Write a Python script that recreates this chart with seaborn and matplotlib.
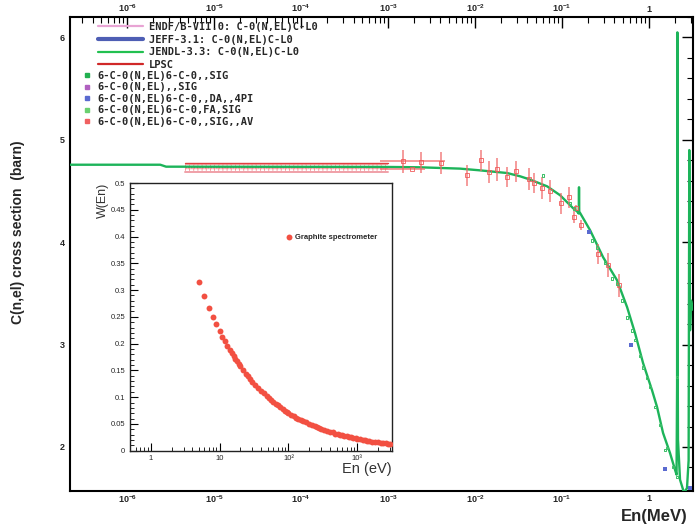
import numpy as np
import pandas as pd
import matplotlib
matplotlib.use("Agg")
import matplotlib.pyplot as plt
import seaborn as sns
from matplotlib.ticker import FixedLocator, FixedFormatter, LogLocator, NullFormatter, MultipleLocator
from matplotlib.lines import Line2D

# ---------------- data ----------------
# JENDL-3.3 C-0(N,EL) evaluated curve (E in MeV, sigma in barn)
eval_E = [2.2e-7, 2.4e-6, 2.8e-6, 8.0e-4, 2.3e-3, 6.7e-3, 0.0114, 0.0233, 0.0329, 0.0429,
          0.0673, 0.0949, 0.134, 0.149, 0.1555, 0.1565, 0.1575, 0.161, 0.21, 0.296,
          0.428, 0.559, 0.69, 0.853, 1.08, 1.236, 1.448, 1.743, 1.99, 2.07,
          2.10, 2.115, 2.13, 2.15, 2.27, 2.53, 2.73, 2.85, 2.90, 2.96, 3.04, 3.2]
eval_sig = [4.757, 4.757, 4.738, 4.736, 4.732, 4.719, 4.702, 4.676, 4.644, 4.612,
            4.546, 4.459, 4.332, 4.300, 4.28, 4.537, 4.29, 4.286, 4.117, 3.854,
            3.629, 3.366, 3.112, 2.82, 2.556, 2.39, 2.137, 1.94, 1.776, 1.73,
            2.6, 6.05, 3.0, 2.07, 1.68, 1.55, 1.60, 1.87, 4.9, 3.14, 3.43, 3.34]

# LPSC band
lpsc_E = [4.6e-6, 1.0e-5, 1.0e-4, 1.0e-3]
lpsc_sig = [4.735, 4.735, 4.735, 4.735]
lpsc_hi = [4.775, 4.775, 4.775, 4.775]
lpsc_lo = [4.688, 4.688, 4.688, 4.688]

# 6-C-0(N,EL)6-C-0,,SIG,,AV  (red points with error bars)
exp_E = [1.486e-3, 1.888e-3, 2.395e-3, 4.06e-3, 8.09e-3, 0.01172, 0.01449, 0.01791, 0.02333,
         0.02961, 0.04178, 0.04766, 0.05891, 0.07279, 0.09744, 0.1203, 0.1374, 0.1449,
         0.1653, 0.2594, 0.338, 0.4518]
exp_sig = [4.790, 4.712, 4.780, 4.771, 4.654, 4.800, 4.683, 4.712, 4.634, 4.693, 4.615,
           4.576, 4.527, 4.498, 4.380, 4.439, 4.244, 4.332, 4.166, 3.883, 3.776, 3.580]
exp_err = [0.112, 0.0, 0.102, 0.107, 0.103, 0.104, 0.107, 0.110, 0.098, 0.102, 0.106,
           0.098, 0.106, 0.106, 0.101, 0.104, 0.059, 0.030, 0.050, 0.098, 0.114, 0.114]
exp_xlo = [6.76e-4, 1.08e-3, 0, 0, 0, 0, 0, 0, 0, 0, 0, 0, 0, 0, 0, 0, 0, 0, 0, 0, 0, 0]
exp_xhi = [3.0e-3, 7.7e-4, 0, 0, 0, 0, 0, 0, 0, 0, 0, 0, 0, 0, 0, 0, 0, 0, 0, 0, 0, 0]

# 6-C-0(N,EL)6-C-0,,SIG  (green points)
sig_E = [0.0605, 0.1236, 0.1374, 0.2213, 0.2523, 0.312, 0.3758, 0.428, 0.4896, 0.559,
         0.638, 0.69, 0.788, 0.853, 0.948, 1.027, 1.172, 1.338, 1.527, 1.61, 1.888, 2.1, 2.09]
sig_sig = [4.654, 4.380, 4.332, 4.020, 3.951, 3.805, 3.649, 3.600, 3.434, 3.268,
           3.141, 3.044, 2.888, 2.780, 2.673, 2.585, 2.390, 2.215, 1.971, 1.990, 1.805, 2.683, 1.707]

# 6-C-0(N,EL)6-C-0,,DA,,4PI  (blue points)
da_E = [0.2042, 0.621, 1.527, 2.96]
da_sig = [4.098, 2.995, 1.785, 1.60]

# inset: graphite spectrometer W(En), En in eV
w_E = [5, 6, 7, 8, 9, 10, 11, 12, 13, 14, 15, 16, 17, 18, 19, 20, 22, 24, 26, 28, 30, 33, 36,
       40, 44, 48, 52, 56, 60, 65, 70, 76, 82, 88, 95, 100, 110, 120, 130, 140, 150, 165,
       180, 200, 220, 240, 260, 280, 300, 330, 360, 400, 440, 480, 520, 560, 600, 650, 700,
       760, 820, 880, 950, 1000, 1100, 1200, 1300, 1400, 1500, 1650, 1800, 2000, 2200,
       2400, 2600, 2800, 3000]
w_val = [0.316, 0.289, 0.267, 0.250, 0.236, 0.224, 0.213, 0.204, 0.196, 0.189, 0.183, 0.177,
         0.171, 0.167, 0.162, 0.158, 0.151, 0.144, 0.139, 0.134, 0.129, 0.123, 0.118, 0.112,
         0.107, 0.102, 0.098, 0.094, 0.091, 0.088, 0.085, 0.081, 0.078, 0.075, 0.073, 0.071,
         0.067, 0.065, 0.062, 0.060, 0.058, 0.055, 0.053, 0.050, 0.048, 0.046, 0.044, 0.042,
         0.041, 0.039, 0.037, 0.035, 0.034, 0.032, 0.031, 0.030, 0.029, 0.028, 0.027, 0.026,
         0.025, 0.024, 0.023, 0.022, 0.021, 0.020, 0.0196, 0.019, 0.018, 0.017, 0.0167,
         0.016, 0.015, 0.014, 0.0139, 0.0134, 0.013]

x_ticks = [1e-6, 1e-5, 1e-4, 1e-3, 1e-2, 1e-1, 1]
x_labels = ["10$^{-6}$", "10$^{-5}$", "10$^{-4}$", "10$^{-3}$", "10$^{-2}$", "10$^{-1}$", "1"]
y_ticks = [2, 3, 4, 5, 6]
in_x_ticks = [1, 10, 100, 1000]
in_x_labels = ["1", "10", "10\u00b2", "10\u00b3"]
in_y_ticks = [0, 0.05, 0.1, 0.15, 0.2, 0.25, 0.3, 0.35, 0.4, 0.45, 0.5]
in_y_labels = ["0", "0.05", "0.1", "0.15", "0.2", "0.25", "0.3", "0.35", "0.4", "0.45", "0.5"]

# ---------------- style ----------------
sns.set_theme(style="white")
plt.rcParams["font.family"] = ["Liberation Sans", "DejaVu Sans"]
plt.rcParams["mathtext.fontset"] = "custom"
plt.rcParams["mathtext.rm"] = "Liberation Sans:bold"
plt.rcParams["mathtext.it"] = "Liberation Sans:bold"
plt.rcParams["mathtext.bf"] = "Liberation Sans:bold"
plt.rcParams["hatch.linewidth"] = 0.6

GREEN = "#1db45a"
RED = "#f06a6a"

fig = plt.figure(figsize=(6.95, 5.32), dpi=100)
ax = fig.add_axes([70 / 695, 41 / 532, 623 / 695, 474 / 532])

df_eval = pd.DataFrame({"E": eval_E, "sig": eval_sig})
df_lpsc = pd.DataFrame({"E": lpsc_E, "sig": lpsc_sig, "hi": lpsc_hi, "lo": lpsc_lo})

# LPSC band
ax.fill_between(lpsc_E, lpsc_lo, lpsc_hi, facecolor="none", edgecolor="#f4a0a0",
                hatch="++++", linewidth=0, zorder=2)
sns.lineplot(data=df_lpsc, x="E", y="hi", ax=ax, color="#e04040", lw=1.0,
             estimator=None, sort=False, zorder=3, legend=False)
sns.lineplot(data=df_lpsc, x="E", y="lo", ax=ax, color="#f0a0a8", lw=1.4,
             estimator=None, sort=False, zorder=3, legend=False)
sns.lineplot(data=df_lpsc, x="E", y="sig", ax=ax, color="#e04848", lw=1.0, ls=(0, (1, 1)),
             estimator=None, sort=False, zorder=3, legend=False)

# evaluated curve
sns.lineplot(data=df_eval, x="E", y="sig", ax=ax, color=GREEN, lw=1.7,
             estimator=None, sort=False, zorder=4, legend=False)

# experimental points
ax.errorbar(exp_E, exp_sig, yerr=exp_err, xerr=[exp_xlo, exp_xhi], fmt="s", ms=2.6,
            mfc="none", mec="#f05858", mew=0.7, ecolor=RED, elinewidth=1.1, capsize=0,
            alpha=0.85, zorder=5)
sns.scatterplot(x=sig_E, y=sig_sig, ax=ax, marker="s", s=4, facecolor="none",
                edgecolor="#3cc068", linewidth=0.7, zorder=6)
sns.scatterplot(x=da_E, y=da_sig, ax=ax, marker="s", s=5, color="#5a6ad0",
                linewidth=0, zorder=6)

ax.set_xscale("log")
ax.set_xlim(2.2e-7, 3.2)
ax.set_ylim(1.57, 6.2)
ax.xaxis.set_major_locator(FixedLocator(x_ticks))
ax.xaxis.set_major_formatter(FixedFormatter(x_labels))
ax.xaxis.set_minor_locator(LogLocator(base=10, subs=np.arange(2, 10), numticks=30))
ax.xaxis.set_minor_formatter(NullFormatter())
ax.yaxis.set_major_locator(FixedLocator(y_ticks))
ax.yaxis.set_minor_locator(MultipleLocator(0.2))
ax.tick_params(axis="both", which="major", direction="in", length=8, width=1,
               top=True, right=True, labeltop=True, labelsize=6.5, pad=4, color="black")
ax.tick_params(axis="x", which="major", pad=2)
ax.tick_params(axis="both", which="minor", direction="in", length=4, width=0.8,
               top=True, right=True, color="black")
for lab in ax.get_xticklabels() + ax.get_yticklabels():
    lab.set_fontweight("bold")
ax.set_xlabel("")
ax.set_ylabel("")
for sp in ax.spines.values():
    sp.set_linewidth(1.5)
    sp.set_color("black")

# legends
mono = {"family": "DejaVu Sans Mono", "weight": "bold", "size": 7.5}
h1 = [Line2D([], [], color="#e8a4d4", lw=1.6),
      Line2D([], [], color="#4e5eb4", lw=3.0),
      Line2D([], [], color="#22c050", lw=1.6),
      Line2D([], [], color="#d02828", lw=1.6)]
l1 = ["ENDF/B-VII.0: C-0(N,EL)C-L0", "JEFF-3.1: C-0(N,EL)C-L0",
      "JENDL-3.3: C-0(N,EL)C-L0", "LPSC"]
leg1 = ax.legend(h1, l1, loc="upper left", bbox_to_anchor=(28 / 623, 1 - 5 / 474),
                 frameon=False, prop=mono, handlelength=4.3, handletextpad=0.6,
                 labelspacing=0.26, borderpad=0, borderaxespad=0)
ax.add_artist(leg1)
h2 = [Line2D([], [], ls="none", marker="s", ms=2.2, color=c) for c in
      ["#22b050", "#b060c0", "#5a6ad0", "#6ad070", "#f06060"]]
l2 = ["6-C-0(N,EL)6-C-0,,SIG", "6-C-0(N,EL),,SIG", "6-C-0(N,EL)6-C-0,,DA,,4PI",
      "6-C-0(N,EL)6-C-0,FA,SIG", "6-C-0(N,EL)6-C-0,,SIG,,AV"]
ax.legend(h2, l2, loc="upper left", bbox_to_anchor=(13 / 623, 1 - 54 / 474),
          frameon=False, prop=mono, handlelength=0.8, handletextpad=0.6,
          labelspacing=0.14, borderpad=0, borderaxespad=0)

fig.text(18 / 695, 1 - 232 / 532, "C(n,el) cross section  (barn)", rotation=90,
         ha="center", va="center", fontsize=10, fontweight="bold")
fig.text(688 / 695, 1 - 517 / 532, "En(MeV)", ha="right", va="center", fontsize=12,
         fontweight="bold")

# ---------------- inset ----------------
ax2 = fig.add_axes([129.5 / 695, 81.3 / 532, 262.5 / 695, 267.7 / 532])
ax2.set_facecolor("white")
sns.scatterplot(x=w_E, y=w_val, ax=ax2, color="#f25042", s=18, linewidth=0,
                label="Graphite spectrometer", zorder=3)
ax2.set_xscale("log")
ax2.set_xlim(0.49, 3200)
ax2.set_ylim(0, 0.5)
ax2.xaxis.set_major_locator(FixedLocator(in_x_ticks))
ax2.xaxis.set_major_formatter(FixedFormatter(in_x_labels))
ax2.xaxis.set_minor_locator(LogLocator(base=10, subs=np.arange(2, 10), numticks=30))
ax2.xaxis.set_minor_formatter(NullFormatter())
ax2.yaxis.set_major_locator(FixedLocator(in_y_ticks))
ax2.yaxis.set_major_formatter(FixedFormatter(in_y_labels))
ax2.yaxis.set_minor_locator(MultipleLocator(0.01))
ax2.tick_params(axis="both", which="major", direction="in", length=6, width=0.8,
                labelsize=5.5, pad=3, color="black", bottom=True, left=True)
ax2.tick_params(axis="both", which="minor", direction="in", length=3, width=0.6,
                color="black", bottom=True, left=True)
for sp in ax2.spines.values():
    sp.set_linewidth(1.0)
    sp.set_color("#222222")
ax2.set_ylabel("W(En)", loc="top", fontsize=9, color="#333333", labelpad=1)
ax2.set_xlabel("En (eV)", loc="right", fontsize=10.5, color="#333333", labelpad=0)
ax2.legend(loc="center left", bbox_to_anchor=(0.585, 0.798), frameon=False,
           prop={"family": "Liberation Sans", "weight": "bold", "size": 5.5},
           handlelength=0.6, handletextpad=0.5, markerscale=1.0, borderpad=0)

fig.savefig("out.png", dpi=100)
